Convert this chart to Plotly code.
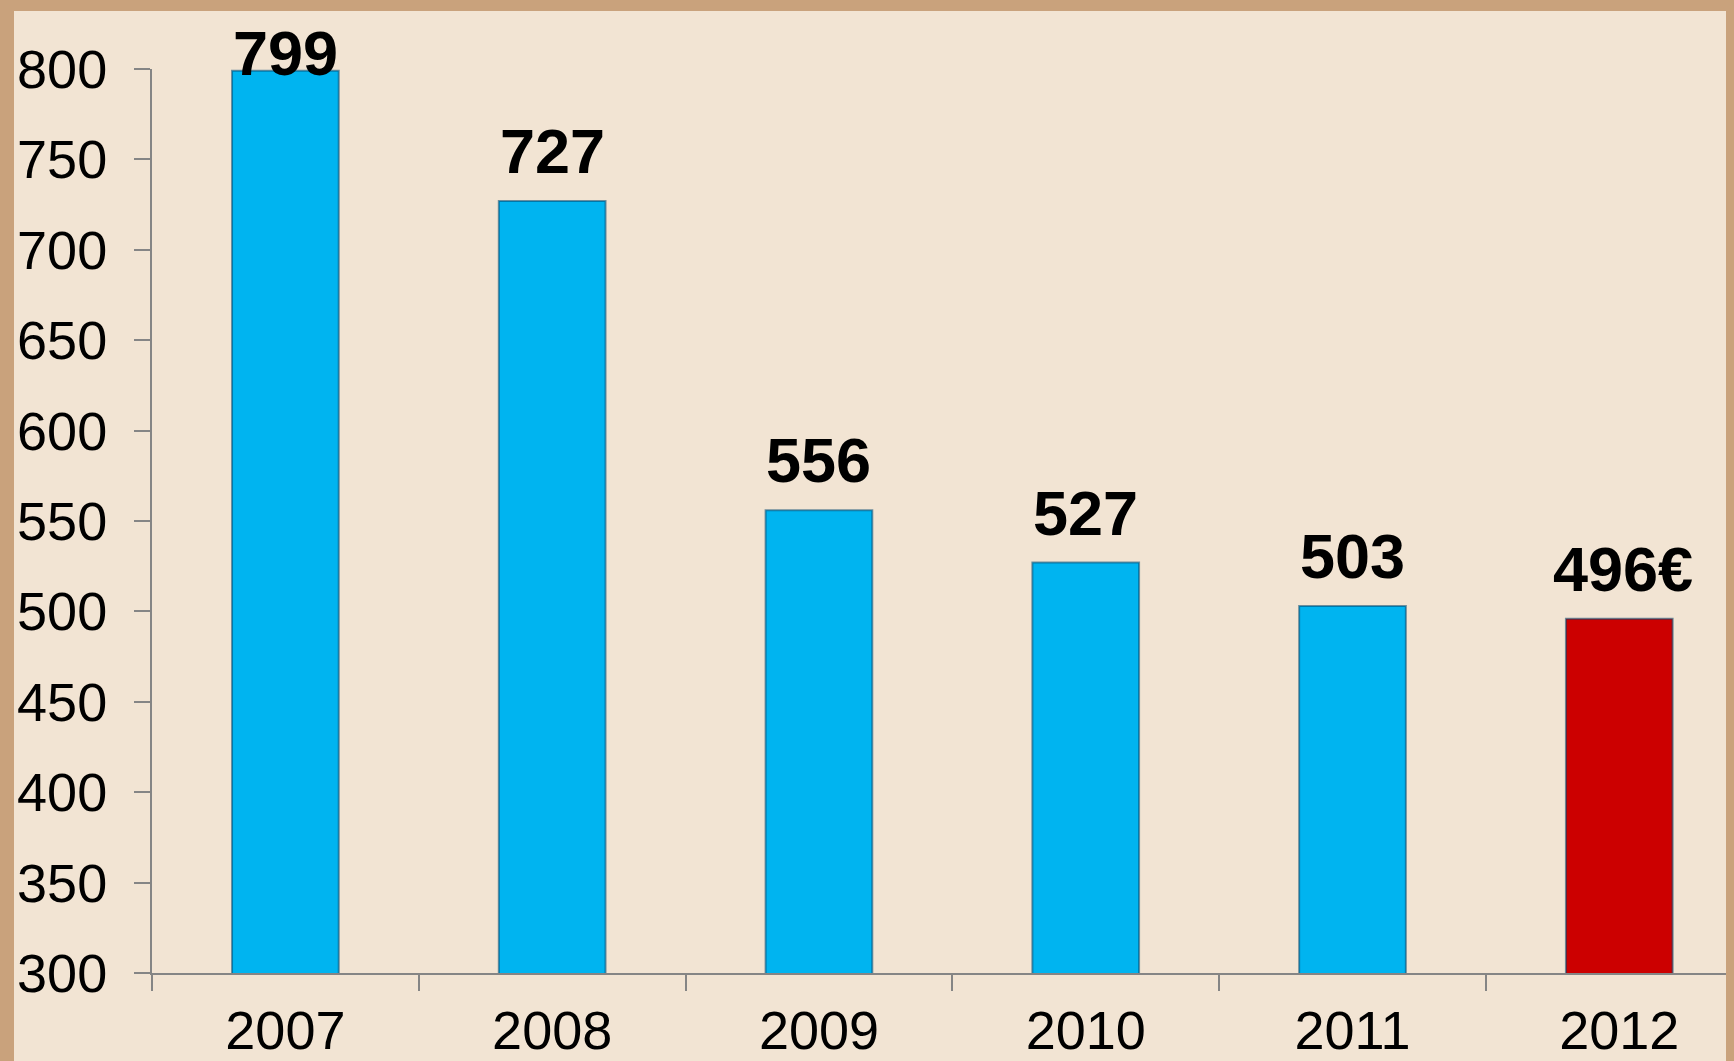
import plotly.graph_objects as go

years = ["2007", "2008", "2009", "2010", "2011", "2012"]
values = [799, 727, 556, 527, 503, 496]
suffixes = ["", "", "", "", "", "€"]
colors = ["#00B4F0", "#00B4F0", "#00B4F0", "#00B4F0", "#00B4F0", "#CC0000"]
y_ticks = [300, 350, 400, 450, 500, 550, 600, 650, 700, 750, 800]

W, H = 1726, 1053
L, T, B = 144, 61, 88
fig = go.Figure()
fig.add_trace(go.Bar(
    x=years, y=values,
    marker=dict(color=colors, line=dict(color="rgba(0,70,110,0.55)", width=2)),
    width=0.4,
))
for i, (v, s) in enumerate(zip(values, suffixes)):
    shift = 13 if v < 780 else -19
    fig.add_annotation(x=i, y=v, xref="x", yref="y", text=f"<b>{v}{s}</b>", showarrow=False,
                       yanchor="bottom", yshift=shift, xshift=4 if s else 0,
                       font=dict(family="Liberation Sans, Arial", size=63, color="black"))

fig.update_layout(
    width=W, height=H,
    margin=dict(l=L, r=0, t=T, b=B),
    paper_bgcolor="#F2E4D3",
    plot_bgcolor="rgba(0,0,0,0)",
    showlegend=False,
    bargap=0.6,
    font=dict(family="Liberation Sans, Arial", color="black"),
)
fig.update_xaxes(
    type="category", range=[-0.5, 5.43], automargin=False,
    showline=True, linecolor="#858585", linewidth=2,
    ticks="outside", tickson="boundaries", ticklen=16, tickcolor="#858585", tickwidth=2,
    ticklabelstandoff=9,
    tickfont=dict(size=54, family="Liberation Sans, Arial"),
    showgrid=False, zeroline=False,
)
fig.update_yaxes(
    range=[300, 800], tickvals=y_ticks, automargin=False,
    showline=True, linecolor="#858585", linewidth=2,
    ticks="outside", ticklen=16, tickcolor="#858585", tickwidth=2,
    ticklabelstandoff=16,
    tickfont=dict(size=54, family="Liberation Sans, Arial"),
    showgrid=False, zeroline=False,
)
pw, ph = W - L, H - T - B
# wooden frame strips at the top and left edges
fig.add_shape(type="rect", xref="paper", yref="paper", x0=-1, x1=2, y0=1.0 + (T - 3) / ph, y1=1.2,
              fillcolor="#C9A27C", line_width=0, layer="below")
fig.add_shape(type="rect", xref="paper", yref="paper", x0=-L / pw, x1=-(L - 6) / pw, y0=-1, y1=2,
              fillcolor="#C9A27C", line_width=0, layer="below")
fig.write_html("out.html", post_script="document.body.style.background='#C9A27C';")
